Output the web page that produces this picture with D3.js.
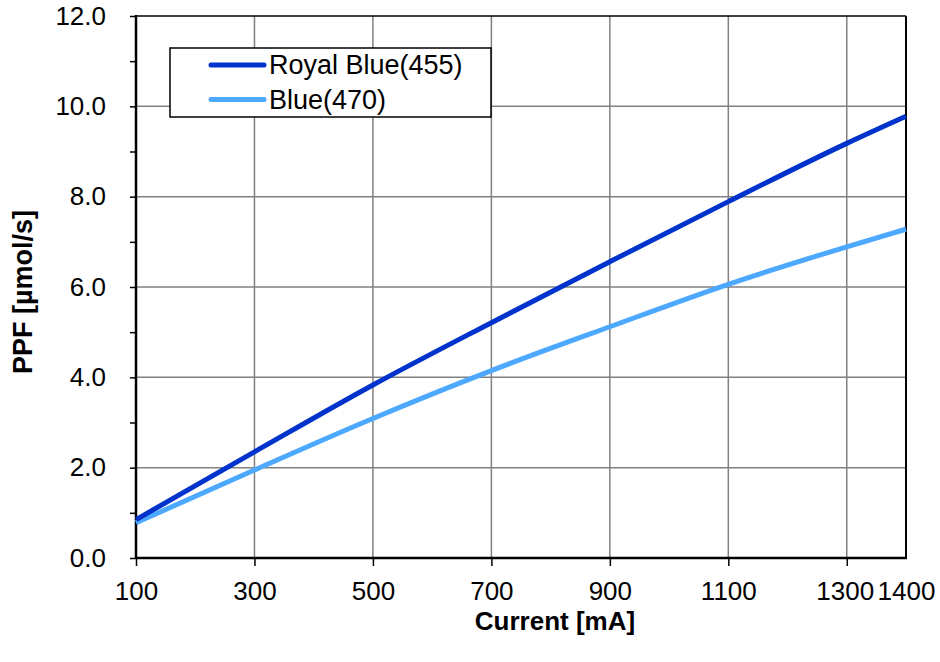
<!DOCTYPE html>
<html><head><meta charset="utf-8">
<script src="https://cdn.jsdelivr.net/npm/d3@7"></script>
<style>
html,body{margin:0;padding:0;background:#fff;}
svg{display:block;font-family:"Liberation Sans",Arial,sans-serif;}
</style></head>
<body><svg id="c" width="940" height="662"></svg>
<script>
const current = [100, 300, 500, 700, 900, 1100, 1300, 1400];
const royalBlue455 = [0.85, 2.35, 3.83, 5.21, 6.56, 7.89, 9.18, 9.78];
const blue470 = [0.78, 1.95, 3.09, 4.15, 5.12, 6.06, 6.89, 7.28];
const seriesNames = ["Royal Blue(455)", "Blue(470)"];
const seriesColors = ["#0033CC", "#4DA8FF"];
const xTicks = [100, 300, 500, 700, 900, 1100, 1300, 1400];
const xGrid = [300, 500, 700, 900, 1100, 1300];
const yTicks = [0, 2, 4, 6, 8, 10, 12];
const yMinor = [1, 3, 5, 7, 9, 11];
const xTitle = "Current [mA]";
const yTitle = "PPF [µmol/s]";

const L = 136, R = 906, T = 16, B = 558;
const FS = 26;
const svg = d3.select("#c");
const x = d3.scaleLinear().domain([100, 1400]).range([L, R]);
const y = d3.scaleLinear().domain([0, 12]).range([B, T]);

// grid
const g = svg.append("g");
g.selectAll("line.vg").data(xGrid).join("line")
  .attr("x1", d => x(d)).attr("x2", d => x(d)).attr("y1", T).attr("y2", B)
  .attr("stroke", "#808080").attr("stroke-width", 1.5);
g.selectAll("line.hg").data(yTicks.filter(d => d > 0 && d < 12)).join("line")
  .attr("x1", L).attr("x2", R).attr("y1", d => y(d)).attr("y2", d => y(d))
  .attr("stroke", "#808080").attr("stroke-width", 1.5);

// borders
svg.append("line").attr("x1", L).attr("x2", R).attr("y1", T).attr("y2", T).attr("stroke", "#000").attr("stroke-width", 1.5);
svg.append("line").attr("x1", R).attr("x2", R).attr("y1", T).attr("y2", B).attr("stroke", "#000").attr("stroke-width", 2);

// axes
const yAxis = d3.axisLeft(y).tickValues(yTicks.concat(yMinor)).tickSize(6).tickPadding(24)
  .tickFormat(d => yTicks.includes(d) ? d3.format(".1f")(d) : "");
const ya = svg.append("g").attr("transform", `translate(${L},0)`).call(yAxis);
ya.select(".domain").remove();
ya.selectAll(".tick line").attr("stroke", "#000").attr("stroke-width", 1.5);
ya.selectAll(".tick text").attr("font-size", FS).attr("fill", "#000").attr("font-family", "Liberation Sans, Arial, sans-serif");

const xAxis = d3.axisBottom(x).tickValues(xTicks).tickSize(8).tickPadding(16).tickFormat(d3.format("d"));
const xa = svg.append("g").attr("transform", `translate(0,${B})`).call(xAxis);
xa.select(".domain").remove();
xa.selectAll(".tick line").attr("stroke", "#000").attr("stroke-width", 1.5)
  .attr("y2", d => d === 1400 ? 0 : 8);
xa.selectAll(".tick text").attr("font-size", FS).attr("fill", "#000").attr("font-family", "Liberation Sans, Arial, sans-serif")
  .attr("dx", d => d === 1300 ? -2 : 0);

svg.append("line").attr("x1", L).attr("x2", L).attr("y1", T - 1).attr("y2", B + 1).attr("stroke", "#000").attr("stroke-width", 2.5);
svg.append("line").attr("x1", L).attr("x2", R + 1).attr("y1", B).attr("y2", B).attr("stroke", "#000").attr("stroke-width", 2.5);

// lines
const series = [royalBlue455, blue470];
const line = d3.line().x((d, i) => x(current[i])).y(d => y(d)).curve(d3.curveMonotoneX);
series.slice().reverse().forEach((s, k) => {
  const i = series.length - 1 - k;
  svg.append("path").datum(s).attr("d", line).attr("fill", "none")
    .attr("stroke", seriesColors[i]).attr("stroke-width", 5);
});

// titles
svg.append("text").attr("x", 555).attr("y", 630).attr("text-anchor", "middle")
  .attr("font-size", 26).attr("font-weight", "bold").text(xTitle);
svg.append("text").attr("transform", "translate(32,292) rotate(-90)").attr("text-anchor", "middle")
  .attr("font-size", 27).attr("font-weight", "bold").text(yTitle);

// legend
const lg = svg.append("g");
lg.append("rect").attr("x", 170).attr("y", 48).attr("width", 321).attr("height", 69)
  .attr("fill", "#fff").attr("stroke", "#000").attr("stroke-width", 1.5);
seriesNames.forEach((n, i) => {
  const yy = 65 + i * 34.5;
  lg.append("line").attr("x1", 211).attr("x2", 264).attr("y1", yy).attr("y2", yy)
    .attr("stroke", seriesColors[i]).attr("stroke-width", 5).attr("stroke-linecap", "round");
  lg.append("text").attr("x", 269).attr("y", yy).attr("dy", "0.35em")
    .attr("font-size", 27).attr("fill", "#000").text(n);
});
</script></body></html>
